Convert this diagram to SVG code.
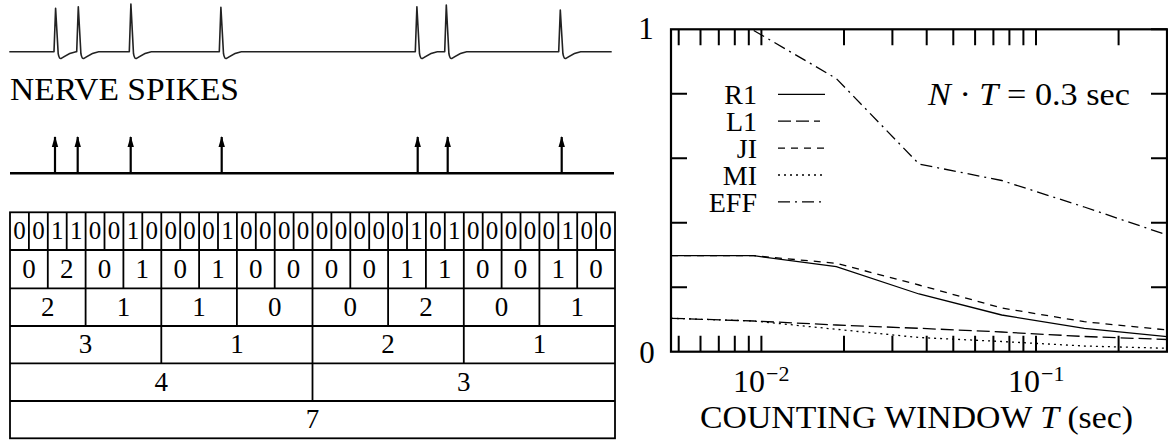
<svg xmlns="http://www.w3.org/2000/svg" width="1168" height="440" viewBox="0 0 1168 440" font-family="'Liberation Serif', 'Times New Roman', serif">
  <style>
    text { font-family: "Liberation Serif", "Times New Roman", serif; fill: #000; }
    .lbl { font-size: 31px; }
    .leg { font-size: 28px; text-anchor: end; }
    .cell1 { font-size: 25px; text-anchor: middle; }
    .cell { font-size: 27px; text-anchor: middle; }
    .grid { stroke: #000; stroke-width: 1.8; fill: none; }
    .axis { stroke: #000; stroke-width: 2.2; fill: none; }
    .tick { stroke: #000; stroke-width: 2; }
    .curve { fill: none; stroke: #000; stroke-width: 1.3; }
    .l1 { stroke-dasharray: 13 5; }
    .ji { stroke-dasharray: 7 6; }
    .mi { stroke-dasharray: 2 4; }
    .eff { stroke-dasharray: 12 5 2 5; }
  </style>
  <defs>
    <marker id="head" markerUnits="userSpaceOnUse" viewBox="-1 -4 13 8" markerWidth="13" markerHeight="8" refX="10" refY="0" orient="auto">
      <path d="M0,-3.2 L11,0 L0,3.2 Z" fill="#000"/>
    </marker>
  </defs>

  <!-- membrane potential trace with action potentials -->
  <g id="spike-trace">
    <path fill="none" stroke="#222" stroke-width="1.6" stroke-linejoin="round" d="M9.3 51.7
      L54 51.7 L55.6 8.3 L58.2 53.7 C59 58.2 60 58.7 61 58.5 C64 57.2 67 53.2 76 51.7
      L76.7 51.7 L78.3 6.7 L80.9 53.7 C81.7 58.2 82.7 58.7 83.7 58.5 C86.7 57.2 89.7 53.2 98.7 51.7
      L129.3 51.7 L130.9 4 L133.5 53.7 C134.3 58.2 135.3 58.7 136.3 58.5 C139.3 57.2 142.3 53.2 151.3 51.7
      L219.3 51.7 L220.9 7.3 L223.5 53.7 C224.3 58.2 225.3 58.7 226.3 58.5 C229.3 57.2 232.3 53.2 241.3 51.7
      L415.3 51.7 L416.9 6.7 L419.5 53.7 C420.3 58.2 421.3 58.7 422.3 58.5 C425.3 57.2 428.3 53.2 437.3 51.7
      L444.7 51.7 L446.3 5 L448.9 53.7 C449.7 58.2 450.7 58.7 451.7 58.5 C454.7 57.2 457.7 53.2 466.7 51.7
      L558.7 51.7 L560.3 10 L562.9 53.7 C563.7 58.2 564.7 58.7 565.7 58.5 C568.7 57.2 571.7 53.2 580.7 51.7
      L611.7 51.7"/>
  </g>

  <g id="spike-label">
    <text class="lbl" x="10" y="100" textLength="229" lengthAdjust="spacingAndGlyphs">NERVE SPIKES</text>
  </g>

  <!-- point-process representation: one arrow per spike -->
  <g id="event-train">
    <line x1="10" y1="173.3" x2="614" y2="173.3" stroke="#000" stroke-width="2.6"/>
    <g stroke="#000" stroke-width="2.2" marker-end="url(#head)">
      <line x1="55" y1="173" x2="55" y2="137"/>
      <line x1="77.7" y1="173" x2="77.7" y2="137"/>
      <line x1="130.7" y1="173" x2="130.7" y2="137"/>
      <line x1="221.7" y1="173" x2="221.7" y2="137"/>
      <line x1="417.7" y1="173" x2="417.7" y2="137"/>
      <line x1="447.7" y1="173" x2="447.7" y2="137"/>
      <line x1="561.7" y1="173" x2="561.7" y2="137"/>
    </g>
  </g>

  <!-- spike counts in windows of doubling width -->
  <g id="count-table">
    <rect class="grid" x="10" y="212.3" width="605" height="226"/>
    <g class="grid">
      <path d="M10 250 H615 M10 288.3 H615 M10 326 H615 M10 363.3 H615 M10 401 H615"/>
      <!-- row 1: 32 bins -->
      <path d="M28.9 212.3V250 M47.8 212.3V250 M66.7 212.3V250 M85.6 212.3V250 M104.5 212.3V250 M123.4 212.3V250 M142.3 212.3V250 M161.3 212.3V250 M180.2 212.3V250 M199.1 212.3V250 M218 212.3V250 M236.9 212.3V250 M255.8 212.3V250 M274.7 212.3V250 M293.6 212.3V250 M312.5 212.3V250 M331.4 212.3V250 M350.3 212.3V250 M369.2 212.3V250 M388.1 212.3V250 M407 212.3V250 M425.9 212.3V250 M444.8 212.3V250 M463.8 212.3V250 M482.7 212.3V250 M501.6 212.3V250 M520.5 212.3V250 M539.4 212.3V250 M558.3 212.3V250 M577.2 212.3V250 M596.1 212.3V250"/>
      <!-- row 2: 16 bins -->
      <path d="M47.8 250V288.3 M85.6 250V288.3 M123.4 250V288.3 M161.3 250V288.3 M199.1 250V288.3 M236.9 250V288.3 M274.7 250V288.3 M312.5 250V288.3 M350.3 250V288.3 M388.1 250V288.3 M425.9 250V288.3 M463.8 250V288.3 M501.6 250V288.3 M539.4 250V288.3 M577.2 250V288.3"/>
      <!-- row 3: 8 bins -->
      <path d="M85.6 288.3V326 M161.3 288.3V326 M236.9 288.3V326 M312.5 288.3V326 M388.1 288.3V326 M463.8 288.3V326 M539.4 288.3V326"/>
      <!-- row 4: 4 bins -->
      <path d="M161.3 326V363.3 M312.5 326V363.3 M463.8 326V363.3"/>
      <!-- row 5: 2 bins -->
      <path d="M312.5 363.3V401"/>
    </g>
    <g class="cell1">
      <text x="19.5" y="239">0</text><text x="38.4" y="239">0</text><text x="57.3" y="239">1</text><text x="76.2" y="239">1</text>
      <text x="95.1" y="239">0</text><text x="114" y="239">0</text><text x="132.9" y="239">1</text><text x="151.8" y="239">0</text>
      <text x="170.7" y="239">0</text><text x="189.6" y="239">0</text><text x="208.5" y="239">0</text><text x="227.4" y="239">1</text>
      <text x="246.3" y="239">0</text><text x="265.3" y="239">0</text><text x="284.2" y="239">0</text><text x="303.1" y="239">0</text>
      <text x="322" y="239">0</text><text x="340.9" y="239">0</text><text x="359.8" y="239">0</text><text x="378.7" y="239">0</text>
      <text x="397.6" y="239">0</text><text x="416.5" y="239">1</text><text x="435.4" y="239">0</text><text x="454.3" y="239">1</text>
      <text x="473.2" y="239">0</text><text x="492.1" y="239">0</text><text x="511" y="239">0</text><text x="529.9" y="239">0</text>
      <text x="548.8" y="239">0</text><text x="567.8" y="239">1</text><text x="586.7" y="239">0</text><text x="605.6" y="239">0</text>
    </g>
    <g class="cell">
      <text x="28.9" y="277.7">0</text><text x="66.7" y="277.7">2</text><text x="104.5" y="277.7">0</text><text x="142.3" y="277.7">1</text>
      <text x="180.2" y="277.7">0</text><text x="218" y="277.7">1</text><text x="255.8" y="277.7">0</text><text x="293.6" y="277.7">0</text>
      <text x="331.4" y="277.7">0</text><text x="369.2" y="277.7">0</text><text x="407" y="277.7">1</text><text x="444.8" y="277.7">1</text>
      <text x="482.7" y="277.7">0</text><text x="520.5" y="277.7">0</text><text x="558.3" y="277.7">1</text><text x="596.1" y="277.7">0</text>

      <text x="47.8" y="315.7">2</text><text x="123.4" y="315.7">1</text><text x="199.1" y="315.7">1</text><text x="274.7" y="315.7">0</text>
      <text x="350.3" y="315.7">0</text><text x="425.9" y="315.7">2</text><text x="501.6" y="315.7">0</text><text x="577.2" y="315.7">1</text>

      <text x="85.6" y="353.2">3</text><text x="236.9" y="353.2">1</text><text x="388.1" y="353.2">2</text><text x="539.4" y="353.2">1</text>

      <text x="161.3" y="390.7">4</text><text x="463.8" y="390.7">3</text>

      <text x="312.5" y="428.2">7</text>
    </g>
  </g>

  <!-- performance vs. counting window plot -->
  <g id="plot">
    <g id="axes">
      <rect class="axis" x="671" y="29.3" width="496" height="322.4"/>
      <path class="tick" d="
        M678.7 29.3V45.3 M700.5 29.3V45.3 M718.8 29.3V45.3 M734.8 29.3V45.3 M748.8 29.3V45.3 M761.4 29.3V45.3
        M844 29.3V45.3 M892.4 29.3V45.3 M926.7 29.3V45.3 M953.3 29.3V45.3 M975.1 29.3V45.3 M993.4 29.3V45.3
        M1009.4 29.3V45.3 M1023.4 29.3V45.3 M1036 29.3V45.3 M1118.6 29.3V45.3
        M678.7 351.7V335.7 M700.5 351.7V335.7 M718.8 351.7V335.7 M734.8 351.7V335.7 M748.8 351.7V335.7 M761.4 351.7V335.7
        M844 351.7V335.7 M892.4 351.7V335.7 M926.7 351.7V335.7 M953.3 351.7V335.7 M975.1 351.7V335.7 M993.4 351.7V335.7
        M1009.4 351.7V335.7 M1023.4 351.7V335.7 M1036 351.7V335.7 M1118.6 351.7V335.7
        M671 93.8H687 M671 158.3H687 M671 222.8H687 M671 287.3H687
        M1167 29.3H1151 M1167 93.8H1151 M1167 158.3H1151 M1167 222.8H1151 M1167 287.3H1151"/>
      <text class="lbl" x="646" y="39.3" text-anchor="middle">1</text>
      <text class="lbl" x="647" y="363" text-anchor="middle">0</text>
      <text x="765" y="391.7" font-size="32" text-anchor="end">10</text>
      <text x="766" y="381" font-size="22">−2</text>
      <text x="1040" y="391.7" font-size="32" text-anchor="end">10</text>
      <text x="1041" y="381" font-size="22">−1</text>
      <text class="lbl" x="916.5" y="428.3" text-anchor="middle" textLength="433" lengthAdjust="spacingAndGlyphs">COUNTING WINDOW <tspan font-style="italic">T</tspan> (sec)</text>
    </g>

    <g id="curves">
      <polyline class="curve" points="671,255.7 753.7,255.7 836.3,266.7 919,294 1001.7,315 1084.3,328.3 1167,336.7"/>
      <polyline class="curve ji" points="671,255.7 753.7,255.7 836.3,263.3 919,285 1001.7,308 1084.3,321.7 1167,330"/>
      <polyline class="curve l1" points="671,318.3 753.7,321 836.3,325 919,328.3 1001.7,332 1084.3,336.5 1167,339.5"/>
      <polyline class="curve mi" points="671,318.3 753.7,321 836.3,329.3 919,337.5 1001.7,341.5 1084.3,346 1167,348.3"/>
      <polyline class="curve eff" points="753.7,30.5 836.3,78.5 919,164 1001.7,180.5 1084.3,207 1167,235"/>
    </g>

    <g id="legend">
      <text class="leg" x="757" y="104.3">R1</text>
      <text class="leg" x="757" y="131.2">L1</text>
      <text class="leg" x="757" y="158.1">JI</text>
      <text class="leg" x="757" y="185">MI</text>
      <text class="leg" x="757" y="211.9">EFF</text>
      <line class="curve" x1="778" y1="94.3" x2="825" y2="94.3"/>
      <line class="curve l1" x1="778" y1="121.2" x2="820" y2="121.2"/>
      <line class="curve ji" x1="778" y1="148.1" x2="824" y2="148.1"/>
      <line class="curve mi" x1="778" y1="175" x2="825" y2="175"/>
      <line class="curve eff" x1="778" y1="201.9" x2="825" y2="201.9"/>
      <text class="lbl" x="928" y="105" textLength="202" lengthAdjust="spacingAndGlyphs"><tspan font-style="italic">N</tspan> · <tspan font-style="italic">T</tspan> = 0.3 sec</text>
    </g>
  </g>
</svg>
